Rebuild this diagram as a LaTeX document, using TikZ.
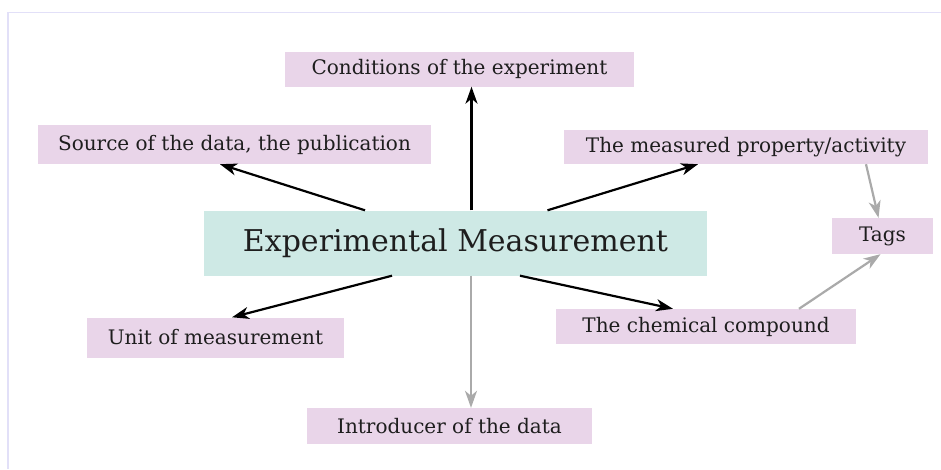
\documentclass[tikz,border=0pt]{standalone}
\usepackage{fontspec}
\setmainfont{DejaVu Serif}
\usetikzlibrary{arrows.meta}
\definecolor{pinkbox}{HTML}{E9D5E9}
\definecolor{tealbox}{HTML}{CEE9E5}
\definecolor{framec}{HTML}{E2E0F8}
\definecolor{grayarr}{HTML}{AAAAAA}
\definecolor{txt}{HTML}{1E1E1E}
\begin{document}
\begin{tikzpicture}[x=1pt,y=-1pt,
 pbox/.style={fill=pinkbox, inner sep=0pt, text=txt, font=\fontsize{20}{24}\selectfont},
 cbox/.style={fill=tealbox, inner sep=0pt, text=txt, minimum width=503pt, minimum height=65pt, font=\fontsize{30}{36}\selectfont},
 blk/.style={draw=black, line width=2.2pt, -{Stealth[length=17pt,width=12pt,inset=5pt]}},
 gry/.style={draw=grayarr, line width=2.2pt, -{Stealth[length=17pt,width=12pt,inset=5pt]}}]
\useasboundingbox (0,0) rectangle (941,469);
\fill[white] (0,0) rectangle (941,469);
\draw[framec, line width=1.5pt] (8,469) -- (8,12.5) -- (941,12.5);

\node[pbox, minimum width=349pt, minimum height=35pt] (cond) at (459.5,69) {Conditions of the experiment};
\node[pbox, minimum width=393pt, minimum height=39pt] (src) at (234.5,144.5) {Source of the data, the publication};
\node[pbox, minimum width=364pt, minimum height=34pt] (meas) at (746,147) {The measured property/activity};
\node[cbox] (cen) at (455.5,243) {Experimental Measurement};
\node[pbox, minimum width=101pt, minimum height=36pt] (tags) at (882.5,236) {Tags};
\node[pbox, minimum width=257pt, minimum height=40pt] (unit) at (215.5,337.5) {Unit of measurement};
\node[pbox, minimum width=300pt, minimum height=35pt] (chem) at (706,326.5) {The chemical compound};
\node[pbox, minimum width=285pt, minimum height=36pt] (intro) at (449.5,426) {Introducer of the data};

\draw[blk] ([xshift=16pt]cen.north) -- ([xshift=12pt]cond.south);
\draw[blk] ([xshift=-90.5pt]cen.north) -- ([xshift=-14.5pt]src.south);
\draw[blk] ([xshift=92pt]cen.north) -- ([xshift=-48pt]meas.south);
\draw[blk] ([xshift=-63.5pt]cen.south) -- ([xshift=16.5pt]unit.north);
\draw[blk] ([xshift=64.5pt]cen.south) -- ([xshift=-33pt]chem.north);
\draw[gry] ([xshift=15.5pt]cen.south) -- ([xshift=21.5pt]intro.north);
\draw[gry] ([xshift=120pt]meas.south) -- ([xshift=-4pt]tags.north);
\draw[gry] ([xshift=93pt]chem.north) -- ([xshift=-2pt]tags.south);
\end{tikzpicture}
\end{document}
